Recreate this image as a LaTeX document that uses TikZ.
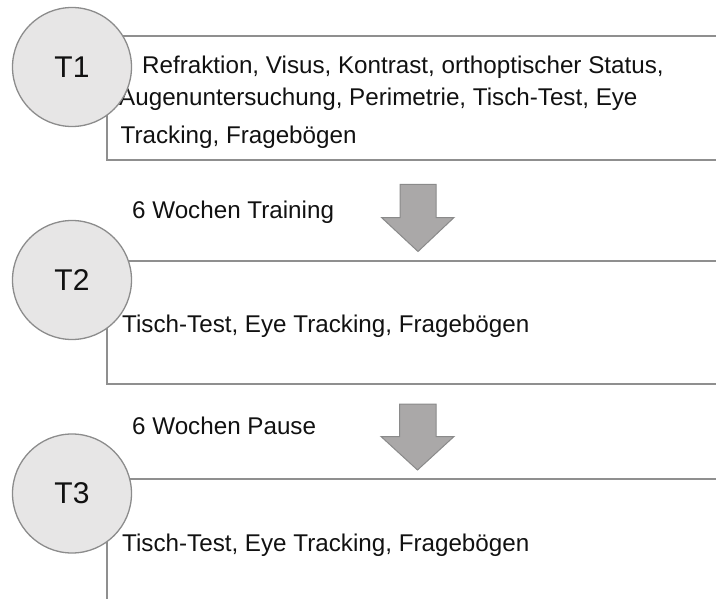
\documentclass[tikz,border=0pt]{standalone}
\usepackage{fontspec}
\setmainfont{Liberation Sans}
\definecolor{circfill}{HTML}{E7E6E6}
\definecolor{circline}{HTML}{8C8C8C}
\definecolor{boxline}{HTML}{8F8F8F}
\definecolor{arrfill}{HTML}{AAA8A8}
\definecolor{arrline}{HTML}{8A8A8A}
\definecolor{txt}{HTML}{111111}
\tikzset{
  tcircle/.style={circle, draw=circline, fill=circfill, line width=1.3bp, minimum size=119bp, inner sep=0pt, text=txt, font=\fontsize{30bp}{36bp}\selectfont},
  boxln/.style={draw=boxline, line width=1.5bp},
  txtnode/.style={anchor=base west, inner sep=0pt, text=txt, font=\fontsize{24.2bp}{29bp}\selectfont},
  bigarrow/.style={fill=arrfill, draw=arrline, line width=1bp, line join=miter}
}
\begin{document}
\begin{tikzpicture}[x=1bp,y=-1bp]
\useasboundingbox (0,0) rectangle (716,599);
% box 1
\coordinate (b1tr) at (716,36);
\coordinate (b1tl) at (107,36);
\coordinate (b1bl) at (107,160);
\coordinate (b1br) at (716,160);
\draw[boxln] (b1tr) -- (b1tl) -- (b1bl) -- (b1br);
\node[txtnode] (l1) at (142,73.5) {Refraktion, Visus, Kontrast, orthoptischer Status,};
\node[txtnode] (l2) at (119,106) {Augenuntersuchung, Perimetrie, Tisch-Test, Eye};
\node[txtnode] (l3) at (120.5,144) {Tracking, Fragebögen};
\node[tcircle] (t1) at (72,67) {T1};
% box 2
\coordinate (b2tr) at (716,261);
\coordinate (b2tl) at (107,261);
\coordinate (b2bl) at (107,384);
\coordinate (b2br) at (716,384);
\draw[boxln] (b2tr) -- (b2tl) -- (b2bl) -- (b2br);
\node[txtnode] (w1) at (132,218) {6 Wochen Training};
\node[txtnode] (l4) at (122,332) {Tisch-Test, Eye Tracking, Fragebögen};
\node[tcircle] (t2) at (72,280) {T2};
% box 3
\coordinate (b3tr) at (716,479);
\coordinate (b3tl) at (107,479);
\coordinate (b3bl) at (107,599);
\draw[boxln] (b3tr) -- (b3tl) -- (b3bl);
\node[txtnode] (w2) at (132,434) {6 Wochen Pause};
\node[txtnode] (l5) at (122,551.5) {Tisch-Test, Eye Tracking, Fragebögen};
\node[tcircle] (t3) at (72,493.5) {T3};
% arrows
\draw[bigarrow] (400,184.5) -- (436,184.5) -- (436,217.5) -- (454,217.5) -- (418,251.5) -- (381.5,217.5) -- (400,217.5) -- cycle;
\draw[bigarrow] (399.5,404) -- (436,404) -- (436,436.5) -- (454,436.5) -- (417.5,470) -- (381,436.5) -- (399.5,436.5) -- cycle;
\end{tikzpicture}
\end{document}
